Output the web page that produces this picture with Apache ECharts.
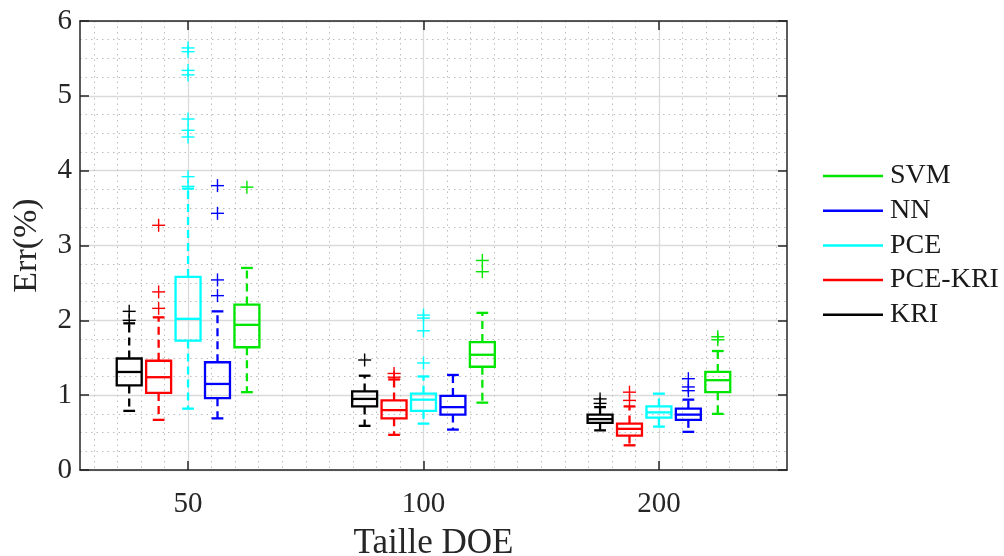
<!DOCTYPE html>
<html><head><meta charset="utf-8">
<script src="https://cdn.jsdelivr.net/npm/echarts@6/dist/echarts.min.js"></script>
<style>html,body{margin:0;padding:0;background:#fff}#c{width:1004px;height:556px}</style>
</head><body><div id="c"></div>
<script>
// ---- data ----
const categories = ['50', '100', '200'];
const methods = ['KRI', 'PCE-KRI', 'PCE', 'NN', 'SVM'];
const legendOrder = ['SVM', 'NN', 'PCE', 'PCE-KRI', 'KRI'];
const yTicks = [0, 1, 2, 3, 4, 5, 6];
// [lower whisker, Q1, median, Q3, upper whisker] for DOE = 50, 100, 200
const KRI_box   = [[0.79, 1.13, 1.31, 1.49, 1.96], [0.59, 0.85, 0.95, 1.05, 1.26], [0.53, 0.63, 0.68, 0.74, 0.84]];
const PCEKRI_box= [[0.67, 1.03, 1.24, 1.46, 2.04], [0.47, 0.69, 0.80, 0.93, 1.21], [0.33, 0.46, 0.55, 0.62, 0.85]];
const PCE_box   = [[0.82, 1.73, 2.02, 2.58, 3.76], [0.62, 0.79, 0.94, 1.02, 1.25], [0.58, 0.70, 0.77, 0.85, 1.02]];
const NN_box    = [[0.69, 0.96, 1.15, 1.44, 2.12], [0.54, 0.74, 0.84, 0.99, 1.27], [0.51, 0.67, 0.74, 0.82, 0.94]];
const SVM_box   = [[1.04, 1.64, 1.94, 2.21, 2.70], [0.90, 1.38, 1.54, 1.71, 2.10], [0.75, 1.04, 1.20, 1.31, 1.59]];
// outliers for DOE = 50, 100, 200
const KRI_out   = [[2.12, 2.00], [1.47], [0.95, 0.89]];
const PCEKRI_out= [[3.27, 2.38, 2.16], [1.29, 1.24], [1.04, 0.93]];
const PCE_out   = [[5.64, 5.59, 5.34, 5.28, 4.69, 4.54, 4.45, 3.92, 3.79], [2.07, 2.03, 1.86, 1.43], []];
const NN_out    = [[3.80, 3.43, 2.54, 2.33], [], [1.22, 1.11, 1.06]];
const SVM_out   = [[3.78], [2.80, 2.65], [1.78, 1.74]];

const boxes = {'KRI': KRI_box, 'PCE-KRI': PCEKRI_box, 'PCE': PCE_box, 'NN': NN_box, 'SVM': SVM_box};
const outs  = {'KRI': KRI_out, 'PCE-KRI': PCEKRI_out, 'PCE': PCE_out, 'NN': NN_out, 'SVM': SVM_out};
const colors = {'KRI': '#000000', 'PCE-KRI': '#ff0000', 'PCE': '#00ffff', 'NN': '#0000ff', 'SVM': '#00e600'};

// ---- layout ----
const X_MIN = 0.541, X_MAX = 3.544;
const STEP = 0.125, BOX_W = 0.106, CAP_W = 0.05;
const FONT = "'Liberation Serif', 'Times New Roman', serif";
const TXT = '#262626';

function boxRender(offset, color) {
  return function (params, api) {
    const x = api.value(0) + offset;
    const lo = api.coord([x, api.value(1)]);
    const q1 = api.coord([x, api.value(2)]);
    const md = api.coord([x, api.value(3)]);
    const q3 = api.coord([x, api.value(4)]);
    const hi = api.coord([x, api.value(5)]);
    const bw = api.size([BOX_W, 0])[0];
    const cw = api.size([CAP_W, 0])[0];
    const cx = q1[0];
    const solid = {stroke: color, lineWidth: 2.3, fill: null};
    const dashed = {stroke: color, lineWidth: 2.3, lineDash: [8, 5], fill: null};
    return {type: 'group', children: [
      {type: 'line', shape: {x1: cx, y1: q3[1], x2: cx, y2: hi[1]}, style: dashed},
      {type: 'line', shape: {x1: cx, y1: q1[1], x2: cx, y2: lo[1]}, style: dashed},
      {type: 'line', shape: {x1: cx - cw / 2, y1: hi[1], x2: cx + cw / 2, y2: hi[1]}, style: solid},
      {type: 'line', shape: {x1: cx - cw / 2, y1: lo[1], x2: cx + cw / 2, y2: lo[1]}, style: solid},
      {type: 'rect', shape: {x: cx - bw / 2, y: q3[1], width: bw, height: q1[1] - q3[1]}, style: {stroke: color, lineWidth: 2.3, fill: 'none'}},
      {type: 'line', shape: {x1: cx - bw / 2, y1: md[1], x2: cx + bw / 2, y2: md[1]}, style: solid}
    ]};
  };
}
function outRender(offset, color) {
  return function (params, api) {
    const p = api.coord([api.value(0) + offset, api.value(1)]);
    const h = 6.5;
    const st = {stroke: color, lineWidth: 1.4};
    return {type: 'group', children: [
      {type: 'line', shape: {x1: p[0] - h, y1: p[1], x2: p[0] + h, y2: p[1]}, style: st},
      {type: 'line', shape: {x1: p[0], y1: p[1] - h, x2: p[0], y2: p[1] + h}, style: st}
    ]};
  };
}

const series = [];
methods.forEach(function (m, i) {
  const off = (i - 2) * STEP;
  series.push({
    name: m, type: 'custom', xAxisIndex: 0, yAxisIndex: 0,
    itemStyle: {color: colors[m]},
    renderItem: boxRender(off, colors[m]),
    encode: {x: 0, y: [1, 2, 3, 4, 5]},
    data: boxes[m].map(function (b, g) { return [g + 1].concat(b); }),
    z: 5
  });
  const od = [];
  outs[m].forEach(function (arr, g) { arr.forEach(function (v) { od.push([g + 1, v]); }); });
  series.push({
    name: m + ' outliers', type: 'custom', xAxisIndex: 0, yAxisIndex: 0,
    itemStyle: {color: colors[m]},
    renderItem: outRender(off, colors[m]),
    encode: {x: 0, y: 1},
    data: od, z: 6
  });
});

const majorX = [1, 2, 3];
const minorX = [];
for (let k = 6; k <= 35; k++) { if (k % 10 !== 0) minorX.push(k / 10); }

const axisLine = {show: true, lineStyle: {color: TXT, width: 1.5}};
const option = {
  animation: false,
  backgroundColor: '#ffffff',
  grid: {left: 80, right: 217, top: 21, bottom: 86, containLabel: false, outerBoundsMode: 'none'},
  legend: {
    orient: 'vertical', left: 818, top: 157,
    data: legendOrder, icon: 'rect', itemWidth: 60, itemHeight: 2.5, itemGap: 6.7,
    textStyle: {fontFamily: FONT, fontSize: 28, color: '#1a1a1a', padding: [0, 0, 0, 2]},
    selectedMode: false
  },
  xAxis: [
    {
      type: 'value', min: X_MIN, max: X_MAX, position: 'bottom',
      name: 'Taille DOE', nameLocation: 'middle', nameGap: 56,
      nameTextStyle: {fontFamily: FONT, fontSize: 35, color: TXT},
      axisLine: axisLine,
      axisTick: {show: true, inside: true, length: 9, customValues: majorX, lineStyle: {color: TXT, width: 1.5}},
      axisLabel: {customValues: majorX, margin: 20, fontFamily: FONT, fontSize: 29, color: TXT,
        formatter: function (v) { return categories[Math.round(v) - 1]; }},
      splitLine: {show: true, lineStyle: {color: '#dadada', width: 1.3}}
    },
    {
      type: 'value', min: X_MIN, max: X_MAX, position: 'bottom',
      axisLine: {show: false}, axisLabel: {show: false},
      axisTick: {show: false, customValues: minorX},
      splitLine: {show: true, lineStyle: {color: '#bdbdbd', width: 1, type: [1.5, 4]}}
    },
    {
      type: 'value', min: X_MIN, max: X_MAX, position: 'top',
      axisLine: axisLine, axisLabel: {show: false},
      axisTick: {show: true, inside: true, length: 9, customValues: majorX, lineStyle: {color: TXT, width: 1.5}},
      splitLine: {show: false}
    }
  ],
  yAxis: [
    {
      type: 'value', min: yTicks[0], max: yTicks[yTicks.length - 1], interval: 1, position: 'left',
      name: 'Err(%)', nameLocation: 'middle', nameGap: 36,
      nameTextStyle: {fontFamily: FONT, fontSize: 34, color: TXT},
      axisLine: axisLine,
      axisTick: {show: true, inside: true, length: 9, lineStyle: {color: TXT, width: 1.5}},
      axisLabel: {margin: 8, fontFamily: FONT, fontSize: 29, color: TXT},
      splitLine: {show: true, lineStyle: {color: '#dadada', width: 1.3}},
      minorTick: {show: false, splitNumber: 4},
      minorSplitLine: {show: true, lineStyle: {color: '#bdbdbd', width: 1, type: [1.5, 4]}}
    },
    {
      type: 'value', min: yTicks[0], max: yTicks[yTicks.length - 1], interval: 1, position: 'right',
      axisLine: axisLine, axisLabel: {show: false},
      axisTick: {show: true, inside: true, length: 9, lineStyle: {color: TXT, width: 1.5}},
      splitLine: {show: false}
    }
  ],
  series: series
};
const chart = echarts.init(document.getElementById('c'), null, {renderer: 'canvas'});
chart.setOption(option);
</script>
</body></html>
